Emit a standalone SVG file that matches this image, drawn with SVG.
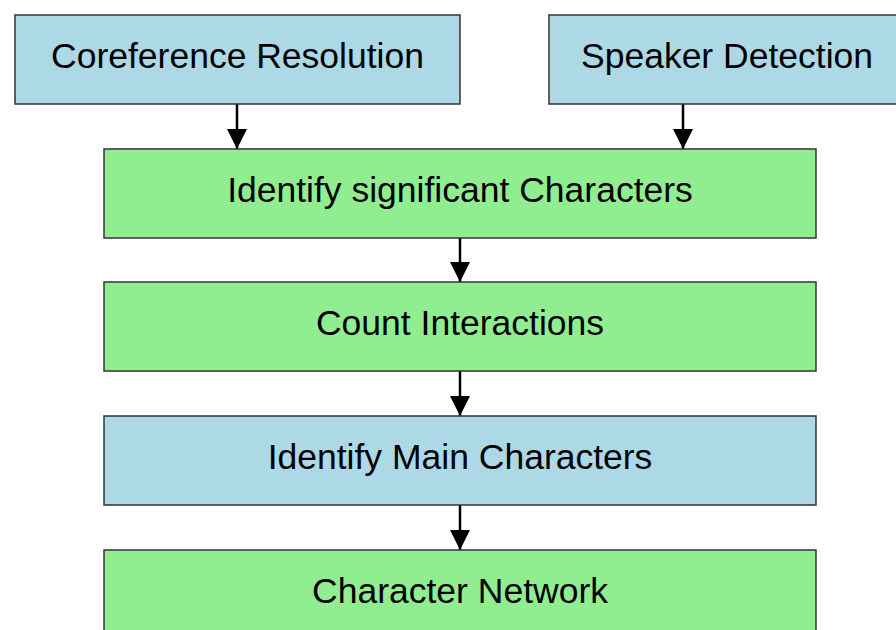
<svg xmlns="http://www.w3.org/2000/svg" width="896" height="630" viewBox="0 0 896 630">
<defs>
<style>
.box{stroke:#333;stroke-width:1.5}
.blue{fill:#ADD8E6}
.green{fill:#90EE90}
.lbl{font-family:"Liberation Sans",Arial,sans-serif;font-size:35.5px;fill:#000;text-anchor:middle}
.edge{stroke:#000;stroke-width:2.5;fill:none}
</style>
<marker id="ah" markerWidth="20" markerHeight="20" refX="20" refY="10" orient="auto" markerUnits="userSpaceOnUse">
<path d="M0,0 L20,10 L0,20 Z" fill="#000"/>
</marker>
</defs>
<rect width="896" height="630" fill="#fff"/>
<g id="edges">
<line class="edge" x1="237" y1="104" x2="237" y2="149" marker-end="url(#ah)"/>
<line class="edge" x1="683" y1="104" x2="683" y2="149" marker-end="url(#ah)"/>
<line class="edge" x1="460" y1="238" x2="460" y2="282" marker-end="url(#ah)"/>
<line class="edge" x1="460" y1="371" x2="460" y2="416" marker-end="url(#ah)"/>
<line class="edge" x1="460" y1="505" x2="460" y2="550" marker-end="url(#ah)"/>
</g>
<g id="coref">
<rect class="box blue" x="15" y="15" width="445" height="89"/>
<text class="lbl" x="237.5" y="68">Coreference Resolution</text>
</g>
<g id="speaker">
<rect class="box blue" x="549" y="15" width="356" height="89"/>
<text class="lbl" x="727" y="68">Speaker Detection</text>
</g>
<g id="significant">
<rect class="box green" x="104" y="149" width="712" height="89"/>
<text class="lbl" x="460" y="202">Identify significant Characters</text>
</g>
<g id="count">
<rect class="box green" x="104" y="282" width="712" height="89"/>
<text class="lbl" x="460" y="335">Count Interactions</text>
</g>
<g id="main">
<rect class="box blue" x="104" y="416" width="712" height="89"/>
<text class="lbl" x="460" y="469">Identify Main Characters</text>
</g>
<g id="network">
<rect class="box green" x="104" y="550" width="712" height="89"/>
<text class="lbl" x="460" y="603">Character Network</text>
</g>
</svg>
